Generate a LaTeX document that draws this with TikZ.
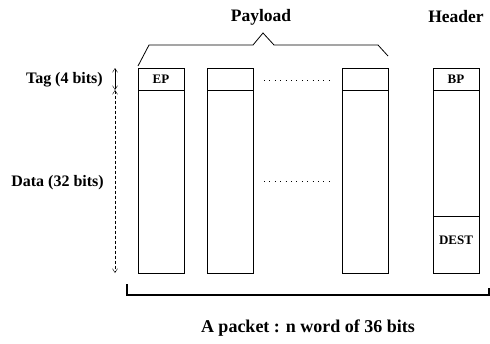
\documentclass[tikz,border=0pt]{standalone}
\usepackage{fontspec}
\setmainfont{Liberation Serif}
\usetikzlibrary{positioning,arrows.meta}

\tikzset{
  word/.style={draw, thick, minimum width=46pt, minimum height=205pt, inner sep=0pt, anchor=north west},
  sidelbl/.style={font=\bfseries\fontsize{16}{18}\selectfont, anchor=east, inner sep=0pt},
  toplbl/.style={font=\bfseries\fontsize{17.5}{20}\selectfont, inner sep=0pt},
  field/.style={font=\bfseries\fontsize{13}{15}\selectfont, inner sep=0pt},
  span/.style={densely dashed, {Straight Barb[length=4pt,width=5pt]}-{Straight Barb[length=4pt,width=5pt]}},
}

\begin{document}
\begin{tikzpicture}[x=1pt, y=-1pt]
  \useasboundingbox (0,0) rectangle (490,343);

  % words of the packet
  \node[word] (w1) at (138,68) {};
  \node[word] (w2) at (207,68) {};
  \node[word] (wn) at (342,68) {};
  \node[word] (hdr) at (433,68) {};

  % tag fields
  \foreach \w in {w1,w2,wn,hdr}
    \draw[thick] ([yshift=-22pt]\w.north west) -- ([yshift=-22pt]\w.north east);
  \draw[thick] ([yshift=-148pt]hdr.north west) -- ([yshift=-148pt]hdr.north east);

  \node[field] (ep) at (161,79) {EP};
  \node[field] (bp) at (456,79) {BP};
  \node[field] (dest) at (456,240) {DEST};

  % dots between words
  \draw[dash pattern=on 1pt off 4.4pt] (264,80) -- (330,80);
  \draw[dash pattern=on 1pt off 4.4pt] (264,181) -- (330,181);

  % payload brace
  \draw[thick] (138,66) -- (149,45) -- (253,45) -- (263,33) -- (274,45) -- (378,45) -- (388,56);
  \node[toplbl] (payload) at (261,17) {Payload};
  \node[toplbl] (header) at (456,17) {Header};

  % bit widths
  \coordinate (tagtop) at (115,68);
  \coordinate (tagbot) at (115,90);
  \coordinate (databot) at (115,273);
  \draw[{Straight Barb[length=4pt,width=5pt]}-{Straight Barb[length=4pt,width=5pt]}] (tagtop) -- (tagbot);
  \draw[span] (tagbot) -- (databot);
  \node[sidelbl] (tag) at (103,80) {Tag (4 bits)};
  \node[sidelbl] (data) at (104,183) {Data (32 bits)};

  % whole packet
  \draw[line width=1.3pt] (127,284) -- (127,295) -- (489,295) -- (489,288);
  \node[toplbl, font=\bfseries\fontsize{18}{20}\selectfont] (packet) at (308,328) {A packet : n word of 36 bits};
\end{tikzpicture}
\end{document}
